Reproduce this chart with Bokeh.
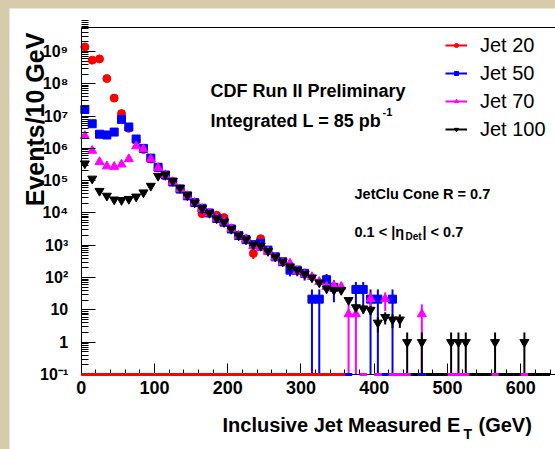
import math
from bokeh.plotting import figure
from bokeh.models import (Range1d, FixedTicker, CustomJSTickFormatter, Label,
                          Legend, LegendItem, ColumnDataSource, LinearAxis)
from bokeh.layouts import column
from bokeh.embed import file_html
from bokeh.resources import INLINE

FONT = "Liberation Sans"

# ---------------- data ----------------
bin_centers = list(range(5, 640, 10))          # 10 GeV bins, 0-640 GeV

jet20_values = [1.38e9, 5.4e8, 5.9e8, 1.45e8, 3.6e7, 1.2e7, 4.2e6, 1.8e6, 9.3e5, 4.7e5,
                2.5e5, 1.4e5, 9.3e4, 5.5e4, 3.4e4, 2.1e4, 9.5e3, 1.0e4, 8.5e3, 7.2e3,
                3.3e3, 2.0e3, 1.6e3, 560, 1.6e3, 0, 0, 0, 0, 0,
                0, 0, 0, 0, 0, 0]
jet20_range = [0, 360]

jet50_values = [1.6e7, 5.8e6, 2.75e6, 2.6e6, 3.2e6, 7.9e6, 4.6e6, 1.95e6, 1.0e6, 5.0e5,
                2.6e5, 1.5e5, 9.1e4, 5.5e4, 3.4e4, 2.1e4, 1.4e4, 1.0e4, 6.8e3, 5.2e3,
                3.2e3, 2.0e3, 1.5e3, 1.05e3, 1.15e3, 710, 440, 310, 170, 170,
                135, 21.5, 21.5, 86, 50, 0, 0, 43, 43, 21.5,
                21.5, 0, 21.5, 0, 0, 0, 0, 0, 0, 0,
                0, 0, 0, 0, 0, 0, 0, 0, 0, 0,
                0, 0, 0, 0]

jet70_values = [2.45e6, 8.5e5, 3.8e5, 2.8e5, 2.7e5, 3.2e5, 4.7e5, 1.17e6, 9.5e5, 4.7e5,
                2.5e5, 1.5e5, 9.1e4, 5.5e4, 3.4e4, 2.1e4, 1.35e4, 9.8e3, 6.8e3, 5.2e3,
                3.2e3, 2.0e3, 1.5e3, 950, 830, 630, 420, 300, 275, 160,
                125, 105, 74, 52, 56, 52, 7.4, 7.4, 0, 22,
                0, 22, 0, 0, 0, 0, 7.4, 0, 0, 0,
                0, 0, 0, 0, 0, 0, 0, 0, 0, 0,
                0, 0, 0, 0]

jet100_values = [3.4e5, 1.15e5, 4.8e4, 3.4e4, 2.6e4, 2.5e4, 2.7e4, 3.2e4, 4.3e4, 6.9e4,
                 1.4e5, 1.55e5, 9.8e4, 6.0e4, 3.5e4, 2.1e4, 1.4e4, 1.0e4, 6.8e3, 5.2e3,
                 3.2e3, 2.0e3, 1.5e3, 1.05e3, 950, 660, 440, 310, 220, 170,
                 130, 100, 70, 46, 41, 41, 20, 12, 11, 10,
                 4, 6, 5, 5, 1, 0, 1, 0, 0, 0,
                 1, 1, 1, 0, 0, 0, 1, 0, 0, 0,
                 1, 0, 0, 0]

# trigger prescale (weight of one event) -> statistical error bars
prescales = {"Jet 20": 60.0, "Jet 50": 21.5, "Jet 70": 7.4, "Jet 100": 1.0}

series_names = ["Jet 20", "Jet 50", "Jet 70", "Jet 100"]
series_values = [jet20_values, jet50_values, jet70_values, jet100_values]
series_colors = ["#ff0000", "#0000ff", "#ff00ff", "#000000"]
series_markers = ["circle", "square", "triangle", "inverted_triangle"]
series_sizes = [8, 8, 9, 9]

xtick_values = [0, 100, 200, 300, 400, 500, 600]
xtick_minor = list(range(20, 660, 20))
ytick_values = [0.1, 1, 10, 1e2, 1e3, 1e4, 1e5, 1e6, 1e7, 1e8, 1e9]
ytick_labels = ["10\u207b\u00b9", "1", "10", "10\u00b2", "10\u00b3", "10\u2074",
                "10\u2075", "10\u2076", "10\u2077", "10\u2078", "10\u2079"]
ytick_minor = [m * 10.0 ** e for e in range(-1, 10) for m in range(2, 10)]

# axes box (data units)
X_AXIS_MAX = 647.5
Y_MIN, Y_TOP = 0.1, 10 ** 9.743
HALF_BIN = 5

# whole canvas is the frame; axes sit at fixed locations inside it
X_VIEW = (-97.9, 647.5)
Y_VIEW = (10 ** -3.322, 10 ** 10.331)

# ---------------- figure ----------------
p = figure(width=546, height=441, x_range=Range1d(*X_VIEW),
           y_range=Range1d(*Y_VIEW), y_axis_type="log",
           output_backend="svg", toolbar_location=None,
           min_border_left=0, min_border_right=0, min_border_top=0,
           min_border_bottom=0, margin=(8, 0, 0, 9))
p.outline_line_color = None
p.grid.visible = False
p.background_fill_color = "white"
p.border_fill_color = "white"

# axes
xa = p.xaxis[0]
xa.fixed_location = Y_MIN
xa.bounds = (0, X_AXIS_MAX)
xa.ticker = FixedTicker(ticks=xtick_values, minor_ticks=xtick_minor)
xa.major_tick_in = 11
xa.major_tick_out = 0
xa.minor_tick_in = 5
xa.minor_tick_out = 0
xa.major_label_standoff = 7
xa.major_label_text_font = FONT
xa.major_label_text_font_size = "18px"
xa.major_label_text_font_style = "bold"
xa.major_label_text_color = "black"
xa.axis_line_color = "black"

ya = p.yaxis[0]
ya.fixed_location = 0
ya.bounds = (Y_MIN, Y_TOP)
ya.ticker = FixedTicker(ticks=ytick_values, minor_ticks=ytick_minor)
ya.formatter = CustomJSTickFormatter(
    args=dict(vals=ytick_values, labs=ytick_labels),
    code="""
    for (let i = 0; i < vals.length; i++) {
        if (Math.abs(Math.log10(vals[i]) - Math.log10(tick)) < 1e-6) { return labs[i]; }
    }
    return '';
    """)
ya.major_tick_in = 14
ya.major_tick_out = 0
ya.minor_tick_in = 7
ya.minor_tick_out = 0
ya.major_label_standoff = 13
ya.major_label_text_font = FONT
ya.major_label_text_font_size = "16px"
ya.major_label_text_font_style = "bold"
ya.major_label_text_color = "black"
ya.axis_line_color = "black"

top_axis = LinearAxis(fixed_location=Y_TOP, bounds=(0, X_AXIS_MAX),
                      ticker=FixedTicker(ticks=[]), major_tick_in=0, major_tick_out=0,
                      minor_tick_in=0, minor_tick_out=0, major_label_text_alpha=0,
                      axis_line_color="black")
p.add_layout(top_axis, "above")

# ---------------- empty bins drawn on the lower edge ----------------
for idx in [1, 2, 3]:
    vals = series_values[idx]
    xs = [bin_centers[i] for i, v in enumerate(vals) if v == 0]
    src = ColumnDataSource(dict(x0=[x - HALF_BIN for x in xs], x1=[x + HALF_BIN for x in xs],
                                y=[Y_MIN] * len(xs)))
    p.segment(x0="x0", x1="x1", y0="y", y1="y", source=src,
              line_color=series_colors[idx], line_width=3, level="overlay")
p.segment(x0=[jet20_range[0]], x1=[jet20_range[1]], y0=[Y_MIN], y1=[Y_MIN],
          line_color=series_colors[0], line_width=3, level="overlay")

# ---------------- points with error bars ----------------
legend_items = []
for name, vals, col, mk, sz in zip(series_names, series_values, series_colors,
                                   series_markers, series_sizes):
    ps = prescales[name]
    xs, ys, lo, hi = [], [], [], []
    for x, v in zip(bin_centers, vals):
        if v > 0:
            err = math.sqrt(v * ps)
            xs.append(x)
            ys.append(v)
            lo.append(max(v - err, Y_MIN))
            hi.append(v + err)
    src = ColumnDataSource(dict(x=xs, y=ys, lo=lo, hi=hi))
    er = p.segment(x0="x", x1="x", y0="lo", y1="hi", source=src,
                   line_color=col, line_width=2)
    sc = p.scatter(x="x", y="y", source=src, marker=mk, size=sz,
                   fill_color=col, line_color=col)
    legend_items.append(LegendItem(label=name, renderers=[er, sc]))

legend = Legend(items=legend_items, location=(436, 308), glyph_width=22,
                glyph_height=10, label_height=24, spacing=4, label_standoff=13,
                padding=0, margin=0, border_line_color=None,
                background_fill_alpha=0, label_text_font=FONT,
                label_text_font_size="20px", label_text_color="black")
p.add_layout(legend)

# ---------------- texts (screen units, origin = lower-left of canvas area) ----------------
def add_label(text, x, y, size, bold=True, align="left", baseline="middle", angle=0.0):
    p.add_layout(Label(text=text, x=x, y=y, x_units="screen", y_units="screen",
                       text_font=FONT, text_font_size=size,
                       text_font_style="bold" if bold else "normal",
                       text_align=align, text_baseline=baseline, angle=angle,
                       text_color="black"))

add_label("CDF Run II Preliminary", 201, 359, "18px")
add_label("Integrated L = 85 pb", 201, 328.5, "18px")
add_label("-1", 373, 338, "11px")
add_label("JetClu Cone R = 0.7", 345, 256, "14.5px")
add_label("0.1 < |\u03b7", 345, 217.5, "14.5px")
add_label("Det", 396, 213, "10px")
add_label("|  <  0.7", 413, 217.5, "14.5px")

add_label("Events/10 GeV", 25, 330, "25px", align="center", baseline="middle",
          angle=math.pi / 2)
add_label("Inclusive Jet Measured E", 213, 24.5, "20px")
add_label("T", 454, 15.5, "14px")
add_label("(GeV)", 469, 24.5, "20px")

layout = column(p, styles={"background-color": "#d6ccac"})

open("out.html", "w").write(file_html(layout, INLINE))
